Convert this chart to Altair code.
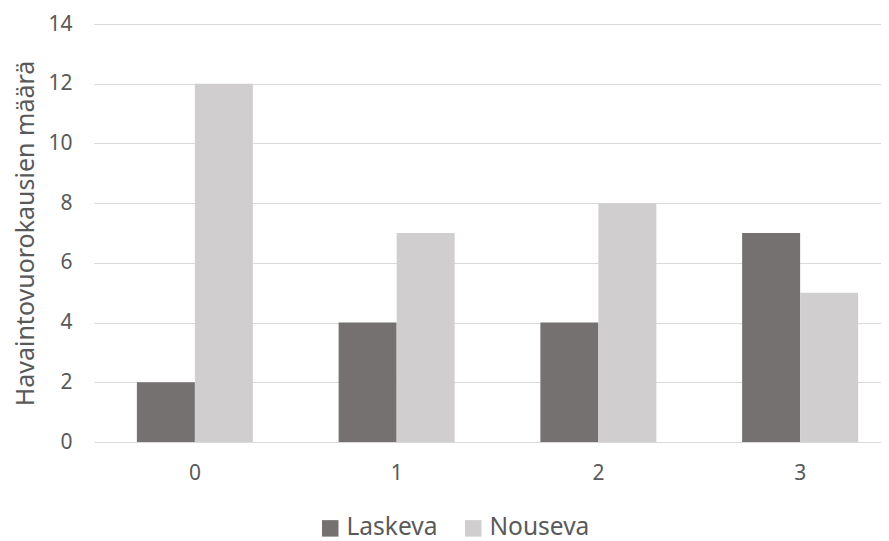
import altair as alt
import pandas as pd

categories = ["0", "1", "2", "3"]
series = ["Laskeva", "Nouseva"]
laskeva = [2, 4, 4, 7]
nouseva = [12, 7, 8, 5]
y_ticks = [0, 2, 4, 6, 8, 10, 12, 14]
colors = ["#767171", "#d0cece"]

rows = []
for c, a, b in zip(categories, laskeva, nouseva):
    rows.append({"cat": c, "series": series[0], "value": a})
    rows.append({"cat": c, "series": series[1], "value": b})
df = pd.DataFrame(rows)

FONT = "Noto Sans"
TXT = "#595959"

chart = alt.Chart(df).mark_bar().encode(
    x=alt.X(
        "cat:N",
        sort=categories,
        scale=alt.Scale(range=[0, 807], paddingInner=0.425, paddingOuter=0.2125),
        axis=alt.Axis(title=None, labelAngle=0, domain=False, ticks=False, grid=False,
                      labelFontSize=21, labelColor=TXT, labelFont=FONT, labelPadding=20),
    ),
    xOffset=alt.XOffset("series:N", sort=series),
    y=alt.Y(
        "value:Q",
        scale=alt.Scale(domain=[0, 14], nice=False),
        axis=alt.Axis(values=y_ticks, title="Havaintovuorokausien määrä", domain=False, ticks=False,
                      gridColor="#d9d9d9", gridWidth=1.2, labelFontSize=21, labelColor=TXT,
                      labelFont=FONT, labelPadding=22, titleFont=FONT, titleFontSize=25,
                      titleColor=TXT, titleFontWeight="normal", titlePadding=9),
    ),
    color=alt.Color(
        "series:N",
        scale=alt.Scale(domain=series, range=colors),
        legend=alt.Legend(title=None, orient="none", legendX=224, legendY=492, direction="horizontal",
                          symbolType="square", symbolSize=272, symbolStrokeWidth=0,
                          labelFontSize=24.5, labelColor=TXT, labelFont=FONT, columnPadding=23,
                          labelOffset=4, padding=0),
    ),
).properties(
    width=787, height=418,
    autosize=alt.AutoSizeParams(type="none"),
    padding={"left": 86, "top": 16, "right": 0, "bottom": 99},
).configure_view(stroke=None)

chart.save("out.html", embed_options={"renderer": "svg", "actions": False})
